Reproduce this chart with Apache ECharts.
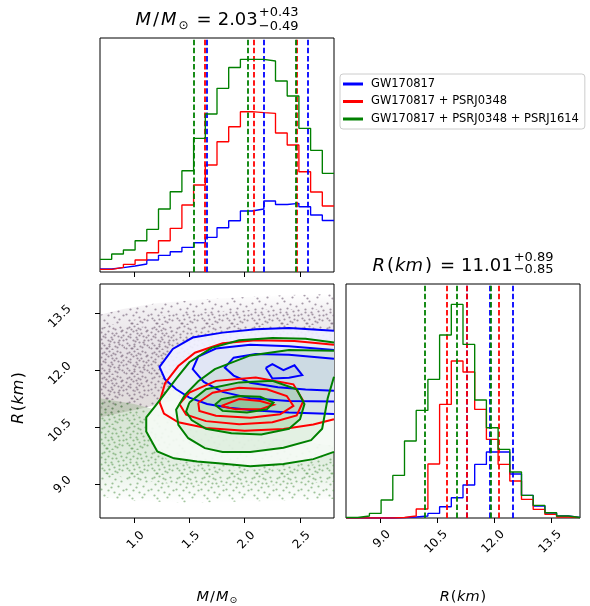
<!DOCTYPE html>
<html><head><meta charset="utf-8">
<script src="https://cdn.jsdelivr.net/npm/echarts@6/dist/echarts.min.js"></script>
<style>html,body{margin:0;padding:0;background:#fff}#c{width:590px;height:606px}</style>
</head><body><div id="c"></div>
<script>
// ---------- data ----------
const M_MIN = 0.692, M_MAX = 2.807;
const R_MIN = 8.10, R_MAX = 14.26;
const N_BINS = 20;
const seriesNames = ['GW170817', 'GW170817 + PSRJ0348', 'GW170817 + PSRJ0348 + PSRJ1614'];
const seriesColors = ['#0000ff', '#ff0000', '#008000'];
const mTicks = [1.0, 1.5, 2.0, 2.5];
const rTicks = [9.0, 10.5, 12.0, 13.5];

// mass histograms (counts per bin)
const massBlue  = [3, 4.3, 6, 8, 12, 16.7, 20.3, 24.7, 29.3, 34.7, 44.3, 51.3, 61, 63, 71, 67.5, 68.7, 65.3, 57, 51.5];
const massRed   = [2.7, 4.7, 7.7, 12, 19.3, 31.3, 43.7, 67, 87, 107, 130.3, 145.3, 160.3, 159.3, 158.7, 139, 127, 100.3, 80, 66];
const massGreen = [12.7, 18, 22, 31.3, 42.7, 63, 80.3, 101.3, 133.7, 158, 183.7, 204.5, 212.7, 212.7, 211, 191, 176, 143.7, 121.7, 98.7];
// radius histograms
const radBlue  = [0, 0, 0, 0, 0.3, 1, 2, 4.6, 11.3, 20.3, 33, 53.6, 66, 66, 44, 22.6, 12, 5, 2, 0.5];
const radRed   = [0, 0, 0, 0, 0.5, 2, 9, 54, 113.6, 157, 146, 108.6, 78.6, 53.6, 37, 18.6, 8.6, 3.6, 1, 0.3];
const radGreen = [0.5, 2, 4.6, 18, 42.6, 77, 107.6, 138.6, 183, 213.6, 173.6, 118, 90.3, 68.6, 46, 22.6, 12.6, 5.3, 2, 0.5];

// quantiles (16%, 50%, 84%)
const massQ = [[1.66, 2.17, 2.57], [1.64, 2.075, 2.47], [1.54, 2.03, 2.46]];
const radQ  = [[11.28, 11.89, 12.49], [10.75, 11.28, 12.12], [10.16, 11.01, 11.90]];

// title texts
const massTitle = {value: '2.03', plus: '+0.43', minus: '\u22120.49'};
const radTitle  = {value: '11.01', plus: '+0.89', minus: '\u22120.85'};

// 2D contours (M, R)
const blueContours = [
  [[M_MAX,13.03],[2.40,13.10],[2.10,13.07],[1.80,12.98],[1.53,12.85],[1.35,12.55],[1.23,12.08],[1.28,11.75],[1.38,11.49],[1.50,11.27],[1.66,11.10],[1.86,11.00],[2.10,10.93],[2.40,10.88],[M_MAX,10.84]],
  [[M_MAX,12.52],[2.40,12.62],[2.05,12.66],[1.74,12.56],[1.58,12.35],[1.53,12.02],[1.63,11.68],[1.80,11.42],[2.05,11.25],[2.40,11.18],[M_MAX,11.17]],
  [[M_MAX,12.29],[2.40,12.40],[2.10,12.42],[1.90,12.32],[1.82,12.06],[1.90,11.85],[2.05,11.66],[2.30,11.54],[2.55,11.48],[M_MAX,11.45]],
  [[2.19,12.05],[2.25,12.15],[2.35,11.99],[2.45,12.12],[2.52,11.86],[2.40,11.79],[2.25,11.77],[2.19,12.05]]
];
const redContours = [
  [[M_MAX,12.66],[2.45,12.76],[2.10,12.78],[1.80,12.70],[1.55,12.45],[1.40,12.10],[1.28,11.65],[1.23,11.15],[1.27,10.85],[1.40,10.62],[1.65,10.47],[2.00,10.40],[2.35,10.44],[2.62,10.56],[M_MAX,10.70]],
  [[1.41,11.10],[1.50,11.40],[1.74,11.71],[2.10,11.80],[2.44,11.62],[2.53,11.18],[2.47,10.80],[2.25,10.62],[1.95,10.57],[1.65,10.65],[1.47,10.82],[1.41,11.10]],
  [[1.58,11.14],[1.71,11.40],[1.95,11.53],[2.20,11.49],[2.38,11.31],[2.44,11.05],[2.32,10.83],[2.05,10.74],[1.74,10.79],[1.59,10.92],[1.58,11.14]],
  [[1.79,11.05],[1.95,11.23],[2.14,11.18],[2.26,11.08],[2.14,10.96],[1.92,10.96],[1.79,11.05]]
];
const greenContours = [
  [[M_MAX,12.72],[2.55,12.82],[2.25,12.84],[1.95,12.78],[1.70,12.58],[1.50,12.20],[1.39,11.80],[1.20,11.08],[1.11,10.75],[1.11,10.38],[1.21,9.85],[1.36,9.67],[1.57,9.59],[1.76,9.54],[2.05,9.46],[2.35,9.52],[2.62,9.65],[M_MAX,9.84]],
  [[M_MAX,12.50],[2.40,12.52],[2.05,12.38],[1.73,12.02],[1.58,11.70],[1.46,11.34],[1.38,10.95],[1.40,10.55],[1.49,10.20],[1.64,9.94],[1.80,9.84],[2.05,9.84],[2.35,9.95],[2.60,10.15],[2.70,10.45],[2.75,11.25],[M_MAX,11.82]],
  [[1.50,11.14],[1.65,11.49],[1.95,11.67],[2.25,11.71],[2.47,11.49],[2.54,11.10],[2.50,10.70],[2.40,10.45],[2.15,10.30],[1.88,10.33],[1.65,10.45],[1.52,10.68],[1.47,10.90],[1.50,11.14]],
  [[1.73,11.08],[1.79,11.23],[1.95,11.31],[2.14,11.29],[2.26,11.14],[2.20,10.96],[2.02,10.88],[1.80,10.92],[1.73,11.08]]
];
// regions covered by the posterior sample points (whole cloud, and denser cores)
const grayCloud  = [[M_MIN,10.75],[M_MIN,13.45],[0.9,13.6],[1.2,13.75],[1.6,13.85],[2.0,13.92],[2.4,13.97],[M_MAX,14.0],[M_MAX,12.0],[2.0,11.6],[1.5,11.3],[1.1,11.0],[M_MIN,10.75]];
const grayCore   = [[M_MIN,11.0],[M_MIN,13.1],[0.95,13.3],[1.3,13.45],[1.8,13.55],[2.3,13.6],[M_MAX,13.6],[M_MAX,12.6],[1.6,12.2],[1.3,11.6],[1.0,11.1],[M_MIN,11.0]];
const grayCore2  = [[M_MIN,11.3],[M_MIN,12.9],[0.9,13.1],[1.15,13.15],[1.4,13.0],[1.35,12.5],[1.2,11.9],[1.0,11.4],[M_MIN,11.3]];
const greenCloud = [[M_MIN,11.25],[1.0,11.1],[1.4,10.8],[2.0,10.3],[M_MAX,10.0],[M_MAX,8.6],[2.2,8.55],[1.5,8.5],[1.0,8.55],[M_MIN,8.65],[M_MIN,11.25]];
const greenCore  = [[M_MIN,11.0],[1.0,10.9],[1.2,10.3],[1.3,9.6],[1.8,9.35],[2.4,9.4],[M_MAX,9.6],[M_MAX,9.05],[2.2,8.95],[1.5,8.95],[1.0,9.1],[M_MIN,9.3],[M_MIN,11.0]];

// ---------- build ----------
function edges(lo, hi, n) { const e = []; for (let i = 0; i <= n; i++) e.push(lo + (hi - lo) * i / n); return e; }
const mEdges = edges(M_MIN, M_MAX, N_BINS);
const rEdges = edges(R_MIN, R_MAX, N_BINS);
function stepData(ed, h) { const d = h.map((v, i) => [ed[i], v]); d.push([ed[h.length], h[h.length - 1]]); return d; }

// speckle texture tiles (fixed positions)
const SPOTS_A = [[2,3],[9,1],[15,4],[5,9],[12,8],[18,11],[1,14],[8,15],[14,17],[19,19],[4,20],[11,12],[21,6],[17,22],[7,23],[23,15]];
const SPOTS_B = [[4,2],[13,3],[20,2],[1,7],[8,6],[16,8],[23,10],[5,12],[12,14],[19,15],[2,18],[9,19],[15,21],[22,20],[6,23],[12,24]];
const SPOTS_C = [[6,4],[17,1],[11,5],[3,11],[21,12],[14,10],[9,21],[18,17],[1,23],[24,22],[10,16],[22,5]];
function tile(color, spots, r) {
  const c = document.createElement('canvas'); c.width = 25; c.height = 25;
  const ctx = c.getContext('2d'); ctx.fillStyle = color;
  spots.forEach(([x, y]) => { ctx.beginPath(); ctx.arc(x + 0.5, y + 0.5, r, 0, Math.PI * 2); ctx.fill(); });
  return {image: c, repeat: 'repeat'};
}

const FONT = 'DejaVu Sans';
const chart = echarts.init(document.getElementById('c'), null, {renderer: 'canvas'});

function histSeries(i, data, q, axis) {
  return {
    type: 'line', name: seriesNames[i], xAxisIndex: axis, yAxisIndex: axis,
    data: data, step: 'end', symbol: 'none', showSymbol: false, silent: true,
    lineStyle: {color: seriesColors[i], width: 1.35}, itemStyle: {color: seriesColors[i]},
    z: 3 + i,
    markLine: {silent: true, symbol: ['none', 'none'], label: {show: false},
      lineStyle: {color: seriesColors[i], type: [5.5, 2.6], width: 1.8},
      data: q.map(v => ({xAxis: v}))}
  };
}

const grayGrad = new echarts.graphic.LinearGradient(0, 0, 0, 1, [
  {offset: 0, color: 'rgba(140,120,140,0.0)'}, {offset: 0.15, color: 'rgba(140,120,140,0.12)'},
  {offset: 0.45, color: 'rgba(140,120,140,0.22)'}, {offset: 1, color: 'rgba(145,125,120,0.28)'}]);
const greenGrad = new echarts.graphic.LinearGradient(0, 0, 0, 1, [
  {offset: 0, color: 'rgba(110,150,95,0.28)'}, {offset: 0.55, color: 'rgba(90,160,85,0.2)'},
  {offset: 1, color: 'rgba(90,160,85,0.0)'}]);

const fills = [
  {pts: grayCloud, fill: grayGrad},
  {pts: grayCloud, fill: tile('rgba(110,90,115,0.6)', SPOTS_A, 1.1)},
  {pts: grayCore, fill: tile('rgba(110,90,110,0.6)', SPOTS_B, 1.1)},
  {pts: grayCore2, fill: tile('rgba(110,90,110,0.6)', SPOTS_C, 1.1)},
  {pts: greenCloud, fill: greenGrad},
  {pts: greenCloud, fill: tile('rgba(70,140,60,0.5)', SPOTS_A, 1.1)},
  {pts: greenCore, fill: tile('rgba(70,140,60,0.5)', SPOTS_B, 1.1)},
  {pts: blueContours[0], fill: 'rgba(255,255,255,0.93)'},
  {pts: greenContours[0], fill: 'rgba(255,255,255,0.93)'},
  {pts: blueContours[0], fill: 'rgba(0,0,255,0.055)'},
  {pts: blueContours[1], fill: 'rgba(0,0,255,0.025)'},
  {pts: blueContours[2], fill: 'rgba(0,0,255,0.025)'},
  {pts: blueContours[3], fill: 'rgba(0,0,255,0.05)'},
  {pts: greenContours[0], fill: 'rgba(0,128,0,0.04)'},
  {pts: greenContours[1], fill: 'rgba(0,128,0,0.07)'},
  {pts: greenContours[2], fill: 'rgba(0,128,0,0.14)'},
  {pts: greenContours[3], fill: 'rgba(0,128,0,0.2)'}
];
const strokes = [];
blueContours.forEach(c => strokes.push({pts: c, color: seriesColors[0]}));
redContours.forEach(c => strokes.push({pts: c, color: seriesColors[1]}));
greenContours.forEach(c => strokes.push({pts: c, color: seriesColors[2]}));

const baseAxis = {axisLine: {show: false}, splitLine: {show: false}};
function tickAxis(min, max, ticks, labels, extra) {
  return Object.assign({}, baseAxis, {
    type: 'value', min: min, max: max,
    axisTick: {show: true, customValues: ticks, length: 5, lineStyle: {color: '#000', width: 1}},
    axisLabel: labels ? Object.assign({show: true, customValues: ticks, rotate: 45, fontSize: 12,
      fontFamily: FONT, color: '#000', formatter: v => v.toFixed(1)}, labels) : {show: false}
  }, extra || {});
}

const gridBase = {show: true, borderColor: '#000', borderWidth: 1, backgroundColor: 'rgba(0,0,0,0)', containLabel: false};

// ---------- text (math-like pieces, laid out with measured widths) ----------
const mctx = document.createElement('canvas').getContext('2d');
function textW(t, size, it) { mctx.font = (it ? 'italic ' : '') + size + 'px "' + FONT + '"'; return mctx.measureText(t).width; }
function txt(x, y, s, size, it) {
  return {type: 'text', x: x, y: y, silent: true, style: {text: s, fontSize: size, fontFamily: FONT, fontStyle: it ? 'italic' : 'normal',
    fill: '#000', textAlign: 'left', textVerticalAlign: 'middle'}};
}
// pieces: {t, s, it, dy, gap} or {sup, sub, s, gap}
function mathLine(cx, cy, pieces) {
  let total = 0;
  const widths = pieces.map(p => {
    const w = p.sup ? Math.max(textW(p.sup, p.s), textW(p.sub, p.s)) : textW(p.t, p.s, p.it);
    total += w + (p.gap || 0);
    return w;
  });
  let x = cx - total / 2;
  const els = [];
  pieces.forEach((p, i) => {
    x += p.gap || 0;
    if (p.sup) {
      els.push(txt(x, cy + p.upDy, p.sup, p.s));
      els.push(txt(x, cy + p.downDy, p.sub, p.s));
    } else {
      els.push(txt(x, cy + (p.dy || 0), p.t, p.s, p.it));
    }
    x += widths[i];
  });
  return els;
}
const T = 18, S = 13, A = 14.5;
const titleMass = mathLine(217, 20.5, [
  {t: 'M', s: T, it: true}, {t: '/', s: T, gap: 2}, {t: 'M', s: T, it: true, gap: 2},
  {t: '\u2299', s: 12, dy: 5, gap: 2}, {t: '=', s: T, gap: 8}, {t: massTitle.value, s: T, gap: 6},
  {sup: massTitle.plus, sub: massTitle.minus, s: S, upDy: -7.5, downDy: 6, gap: 1}
]);
const titleRad = mathLine(463, 266.7, [
  {t: 'R', s: T, it: true}, {t: '(', s: T, gap: 2}, {t: 'km', s: T, it: true, gap: 1}, {t: ')', s: T, gap: 2},
  {t: '=', s: T, gap: 8}, {t: radTitle.value, s: T, gap: 6},
  {sup: radTitle.plus, sub: radTitle.minus, s: S, upDy: -8.7, downDy: 3.3, gap: 1}
]);
const nameM = mathLine(217, 597, [
  {t: 'M', s: A, it: true}, {t: '/', s: A, gap: 1}, {t: 'M', s: A, it: true, gap: 1}, {t: '\u2299', s: 9.5, dy: 4, gap: 1}
]);
const nameR = mathLine(463, 597, [
  {t: 'R', s: A, it: true}, {t: '(', s: A, gap: 1}, {t: 'km', s: A, it: true, gap: 0.5}, {t: ')', s: A, gap: 1}
]);
const nameRy = mathLine(0, 0, [
  {t: 'R', s: 16, it: true}, {t: '(', s: 16, gap: 1.5}, {t: 'km', s: 16, it: true, gap: 0.5}, {t: ')', s: 16, gap: 1.5}
]);

const option = {
  animation: false,
  backgroundColor: '#fff',
  grid: [
    Object.assign({left: 100, top: 38, width: 234, height: 234}, gridBase),
    Object.assign({left: 100, top: 284, width: 234, height: 234}, gridBase),
    Object.assign({left: 346, top: 284, width: 234, height: 234}, gridBase)
  ],
  xAxis: [
    tickAxis(M_MIN, M_MAX, mTicks, null, {gridIndex: 0}),
    tickAxis(M_MIN, M_MAX, mTicks, {align: 'right', verticalAlign: 'top', margin: 7, padding: [6, 0, 0, 0]}, {gridIndex: 1}),
    tickAxis(R_MIN, R_MAX, rTicks, {align: 'right', verticalAlign: 'top', margin: 6, padding: [6, 0, 0, 0]}, {gridIndex: 2})
  ],
  yAxis: [
    Object.assign({}, baseAxis, {type: 'value', gridIndex: 0, min: 0, max: 234, axisTick: {show: false}, axisLabel: {show: false}}),
    tickAxis(R_MIN, R_MAX, rTicks, {align: 'right', verticalAlign: 'bottom', margin: 25, padding: [0, 0, 2, 0]}, {gridIndex: 1}),
    Object.assign({}, baseAxis, {type: 'value', gridIndex: 2, min: 0, max: 234, axisTick: {show: false}, axisLabel: {show: false}})
  ],
  legend: {
    left: 340, top: 74, orient: 'vertical', selectedMode: false,
    data: seriesNames, icon: 'rect', itemWidth: 20, itemHeight: 3, itemGap: 3.5,
    padding: [3, 6, 3, 3], borderColor: '#cccccc', borderWidth: 1, borderRadius: 3,
    backgroundColor: 'rgba(255,255,255,0.85)',
    textStyle: {fontFamily: FONT, fontSize: 11.5, color: '#000', lineHeight: 14, padding: [0, 0, 0, 3]}
  },
  series: [
    histSeries(0, stepData(mEdges, massBlue), massQ[0], 0),
    histSeries(1, stepData(mEdges, massRed), massQ[1], 0),
    histSeries(2, stepData(mEdges, massGreen), massQ[2], 0),
    histSeries(0, stepData(rEdges, radBlue), radQ[0], 2),
    histSeries(1, stepData(rEdges, radRed), radQ[1], 2),
    histSeries(2, stepData(rEdges, radGreen), radQ[2], 2),
    {type: 'custom', xAxisIndex: 1, yAxisIndex: 1, silent: true, z: 1,
      data: fills.map((f, i) => [1.5, 11, i]),
      renderItem: (params, api) => {
        const f = fills[params.dataIndex];
        return {type: 'polygon', shape: {points: f.pts.map(p => api.coord(p))}, style: {fill: f.fill, stroke: null}};
      }},
    {type: 'custom', xAxisIndex: 1, yAxisIndex: 1, silent: true, z: 2,
      data: strokes.map((f, i) => [1.5, 11, i]),
      renderItem: (params, api) => {
        const s = strokes[params.dataIndex];
        return {type: 'polyline', shape: {points: s.pts.map(p => api.coord(p))}, style: {stroke: s.color, lineWidth: 2, fill: null}};
      }}
  ],
  graphic: [].concat(titleMass, titleRad, nameM, nameR,
    [{type: 'group', x: 19, y: 398, rotation: Math.PI / 2, children: nameRy}])
};
chart.setOption(option);
</script></body></html>
